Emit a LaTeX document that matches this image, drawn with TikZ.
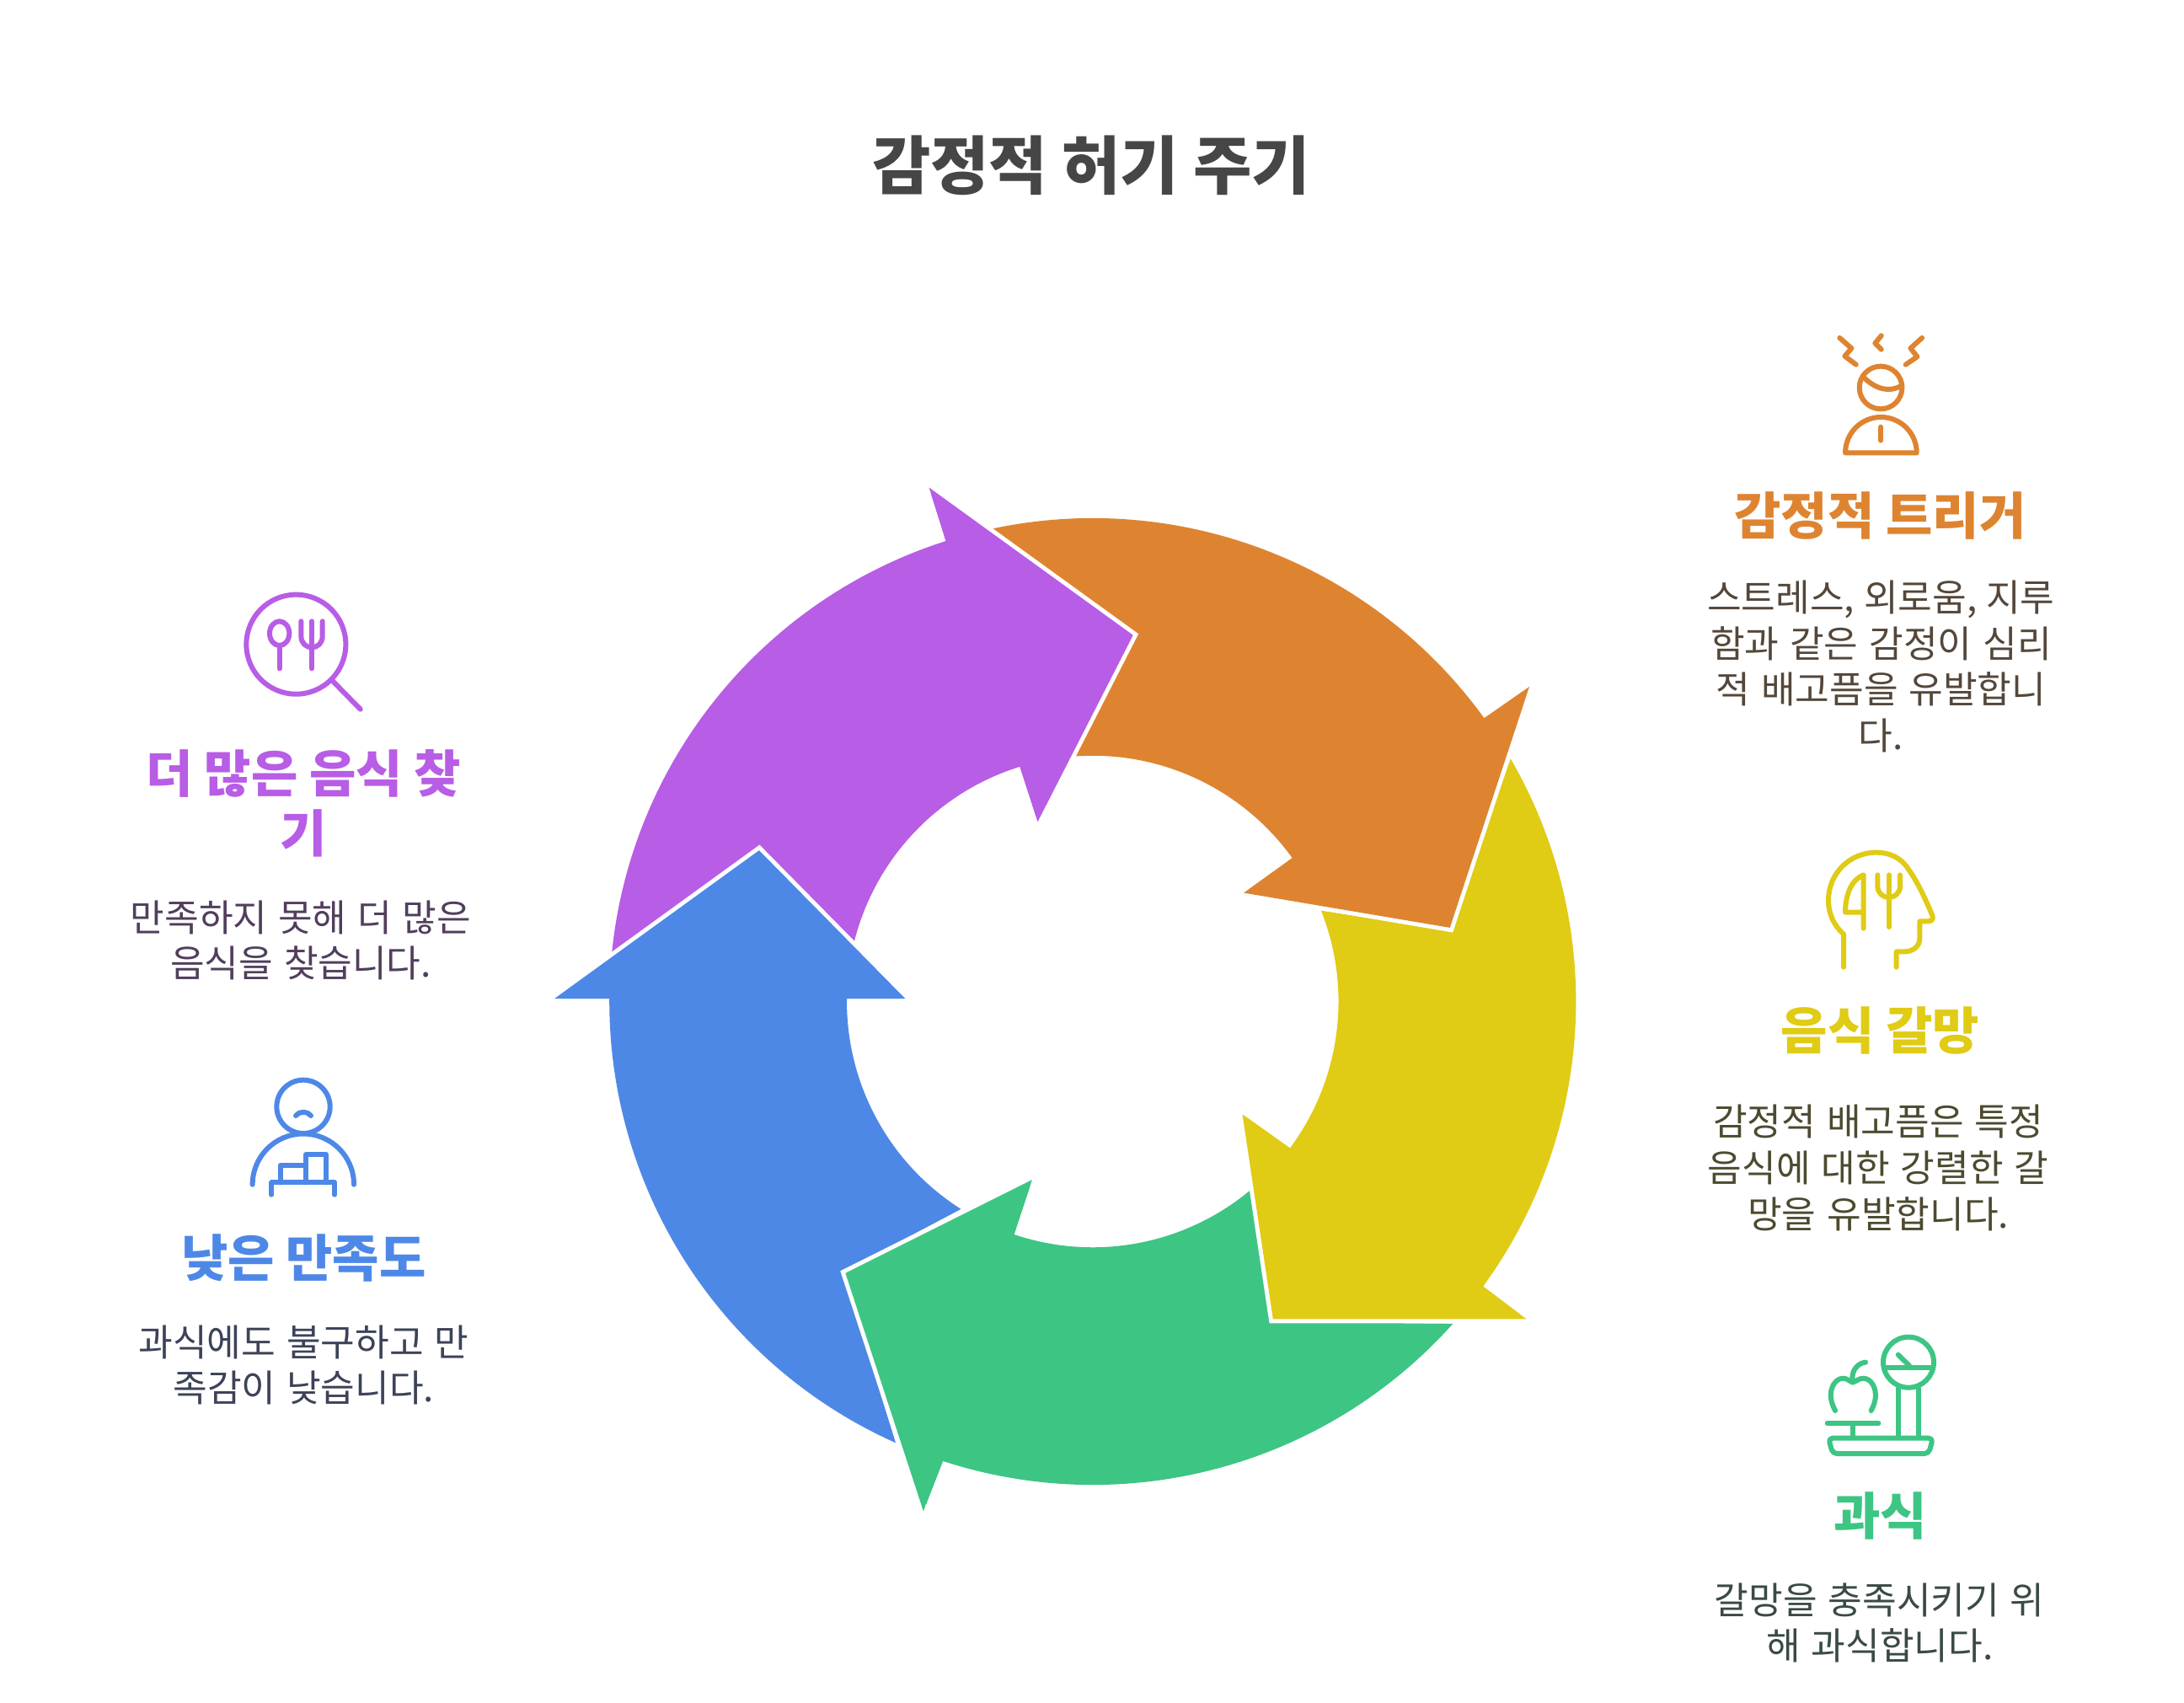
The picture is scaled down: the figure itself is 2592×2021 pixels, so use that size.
\documentclass[tikz,border=0pt]{standalone}
\usepackage{fontspec}
\setmainfont{Noto Sans CJK KR}
\newfontfamily\krbody[WordSpace=1.3]{Noto Sans CJK KR}
\definecolor{corange}{HTML}{DE8431}
\definecolor{cyellow}{HTML}{E0CB15}
\definecolor{cgreen}{HTML}{3DC583}
\definecolor{cblue}{HTML}{4E88E7}
\definecolor{cpurple}{HTML}{B85DE5}
\definecolor{ctitle}{HTML}{464646}
\definecolor{torange}{HTML}{54473A}
\definecolor{tyellow}{HTML}{4D4A30}
\definecolor{tgreen}{HTML}{3A4A44}
\definecolor{tblue}{HTML}{3C4358}
\definecolor{tpurple}{HTML}{513E5C}
\tikzset{
  head/.style={font=\fontsize{30.1}{35.5}\selectfont\bfseries,align=center,inner sep=0pt},
  body/.style={font=\krbody\fontsize{22.1}{27.3}\selectfont,align=center,inner sep=0pt},
  icon/.style={line width=3pt,line cap=round,line join=round},
  pol/.style={shift={(784.5,719)}},
  disp/.style={x=0.8265pt,y=-0.8265pt},
  zoomed/.style={x=0.1667pt,y=-0.1667pt,icon},
  halo/.style={draw=white,line width=5pt,line join=miter,miter limit=20},
}
\newcommand{\ro}{347}
\newcommand{\ri}{176.5}
\begin{document}
\begin{tikzpicture}[x=0.5pt,y=-0.5pt]
\useasboundingbox (0,0) rectangle (2592,2021);
\fill[white] (0,0) rectangle (2592,2021);
\begin{scope}[disp]
% orange
\fill[corange] ([pol]-102.2:\ro) -- (814,457) -- ([pol]-94.06:\ri)
  arc[start angle=-94.06,end angle=-35.6,radius=\ri]
  -- (893,641) -- (1041,666) -- (1098,493) -- ([pol]-35.9:\ro)
  arc[start angle=-35.9,end angle=-102.2,radius=\ro] -- cycle;
% yellow
\fill[cyellow] ([pol]-30.15:\ro) arc[start angle=-30.15,end angle=36.1,radius=\ro]
  -- (1096,947) -- (914,947) -- (892,800) -- ([pol]36.6:\ri)
  arc[start angle=36.6,end angle=-21.7,radius=\ri] -- (1041,668) -- cycle;
% green
\fill[cgreen] ([pol]41.8:\ro) arc[start angle=41.8,end angle=108.04,radius=\ro]
  -- (663,1085) -- (607,914) -- (741,847) -- ([pol]108.7:\ri)
  arc[start angle=108.7,end angle=50.2,radius=\ri] -- (914,949) -- cycle;
% blue
\fill[cblue] ([pol]114.05:\ro) arc[start angle=114.05,end angle=180.33,radius=\ro]
  -- (398,717) -- (545,610.5) -- (650,717) -- ([pol]180.65:\ri)
  arc[start angle=180.65,end angle=122.4,radius=\ri] -- (605,913) -- cycle;
% purple
\fill[cpurple] ([pol]185.8:\ro) arc[start angle=185.8,end angle=252.3,radius=\ro]
  -- (667,350) -- (813.5,456) -- (745,590) -- ([pol]252.96:\ri)
  arc[start angle=252.96,end angle=193.8,radius=\ri] -- (545,608) -- cycle;
% white gaps along the arrow heads
\draw[halo] (893,641) -- (1041,666) -- (1098,493);
\draw[halo] (1096,947) -- (914,947) -- (892,800);
\draw[halo] (663,1085) -- (607,914) -- (741,847);
\draw[halo] (398,717) -- (545,610.5) -- (650,717);
\draw[halo] (667,350) -- (813.5,456) -- (745,590);
\fill[corange] (893,641) -- (1041,666) -- (1098,493) -- cycle;
\fill[cyellow] (1096,947) -- (914,947) -- (892,800) -- cycle;
\fill[cgreen] (663,1085) -- (607,914) -- (741,847) -- cycle;
\fill[cblue] (398,717) -- (545,610.5) -- (650,717) -- cycle;
\fill[cpurple] (667,350) -- (813.5,456) -- (745,590) -- cycle;
% title
\node[font=\fontsize{37.7}{46}\selectfont\bfseries,text=ctitle,inner sep=0pt] (title) at (783.5,119) {감정적 허기 주기};
% labels
\node[head,text=corange] (h1) at (1350,370) {감정적 트리거};
\node[body,text=torange] (b1) at (1350.5,478.5) {스트레스,\kern-1pt{} 외로움,\kern-1pt{} 지루\\함과 같은 감정이 심리\\적 배고픔을 유발합니\\다.};
\node[head,text=cyellow] (h2) at (1350,740) {음식 갈망};
\node[body,text=tyellow] (b2) at (1348.5,838.5) {감정적 배고픔은 특정\\음식에 대한 강렬한 갈\\망을 유발합니다.};
\node[head,text=cgreen] (h3) at (1350,1088) {과식};
\node[body,text=tgreen] (b3) at (1349.5,1165) {갈망을 충족시키기 위\\해 과식합니다.};
\node[head,text=cpurple] (h4) at (218,576.5) {더 많은 음식 찾\\기};
\node[body,text=tpurple] (b4) at (216,675) {만족하지 못해 더 많은\\음식을 찾습니다.};
\node[head,text=cblue] (h5) at (218,903) {낮은 만족도};
\node[body,text=tblue] (b5) at (218,980) {과식에도 불구하고 만\\족감이 낮습니다.};
\end{scope}
% icon orange
\begin{scope}[shift={(2000,370)},zoomed,draw=corange]
\draw (550,93)--(592,130)--(568,158)--(608,188);
\draw (698,85)--(676,112)--(698,134);
\draw (843,93)--(802,130)--(826,160)--(785,188);
\draw (696,270) circle[radius=76];
\draw (637,235) .. controls (665,262) and (715,295) .. (772,262);
\draw (570,502) arc[start angle=180,end angle=360,radius=127] -- cycle;
\draw (696,410)--(696,458);
\end{scope}
% icon yellow
\begin{scope}[shift={(2100,990)},zoomed,draw=cyellow]
\draw (264,473)--(264,356) .. controls (230,325) and (210,285) .. (210,235)
 .. controls (210,140) and (285,65) .. (380,65)
 .. controls (430,65) and (470,85) .. (495,125)
 .. controls (530,175) and (555,230) .. (580,290)
 .. controls (585,303) and (575,310) .. (565,310)
 -- (535,310) -- (535,370) .. controls (535,400) and (510,418) .. (480,418)
 -- (452,418) -- (452,473);
\draw (335,335)--(335,145) .. controls (295,160) and (270,210) .. (270,278) -- (335,278);
\draw (385,145)--(385,185) .. controls (385,210) and (405,225) .. (425,225)
 .. controls (445,225) and (465,210) .. (465,185) -- (465,145);
\draw (425,145)--(425,330);
\end{scope}
% icon green
\begin{scope}[shift={(2100,1570)},zoomed,draw=cgreen]
\draw (495,140) circle[radius=90];
\draw (415,158)--(575,158);
\draw (458,113)--(498,152);
\draw (459,232)--(459,408) (531,232)--(531,408);
\draw[rounded corners=2.5pt] (210,410)--(582,410)--(567,465)--(225,465)--cycle;
\draw (296,357)--(296,408);
\draw (206,357)--(388,357);
\draw (234,312) .. controls (220,285) and (215,260) .. (220,240)
 .. controls (228,205) and (255,190) .. (275,200) -- (296,212) -- (320,200)
 .. controls (342,190) and (368,205) .. (376,240)
 .. controls (381,260) and (376,285) .. (362,312);
\draw (296,205) .. controls (290,170) and (315,142) .. (342,140);
\end{scope}
% icon purple
\begin{scope}[shift={(250,690)},zoomed,draw=cpurple]
\draw (304,224) circle[radius=177];
\draw (432,352)--(533,455);
\draw (245,185) ellipse[x radius=35,y radius=43];
\draw (245,228)--(245,310);
\draw (322,142)--(322,195) .. controls (322,220) and (340,235) .. (360,235)
 .. controls (380,235) and (398,220) .. (398,195) -- (398,142);
\draw (360,142)--(360,310);
\end{scope}
% icon blue
\begin{scope}[shift={(270,1270)},zoomed,draw=cblue]
\draw (270,130) circle[radius=95];
\draw (243,162) .. controls (255,145) and (285,145) .. (297,162);
\draw (89,407) arc[start angle=180,end angle=360,radius=180.5];
\draw (157,443)--(157,400)--(381,400)--(381,443);
\draw (189,400)--(189,338)--(280,338)--(280,400);
\draw (280,338)--(280,300)--(351,300)--(351,400);
\end{scope}
\end{tikzpicture}
\end{document}
